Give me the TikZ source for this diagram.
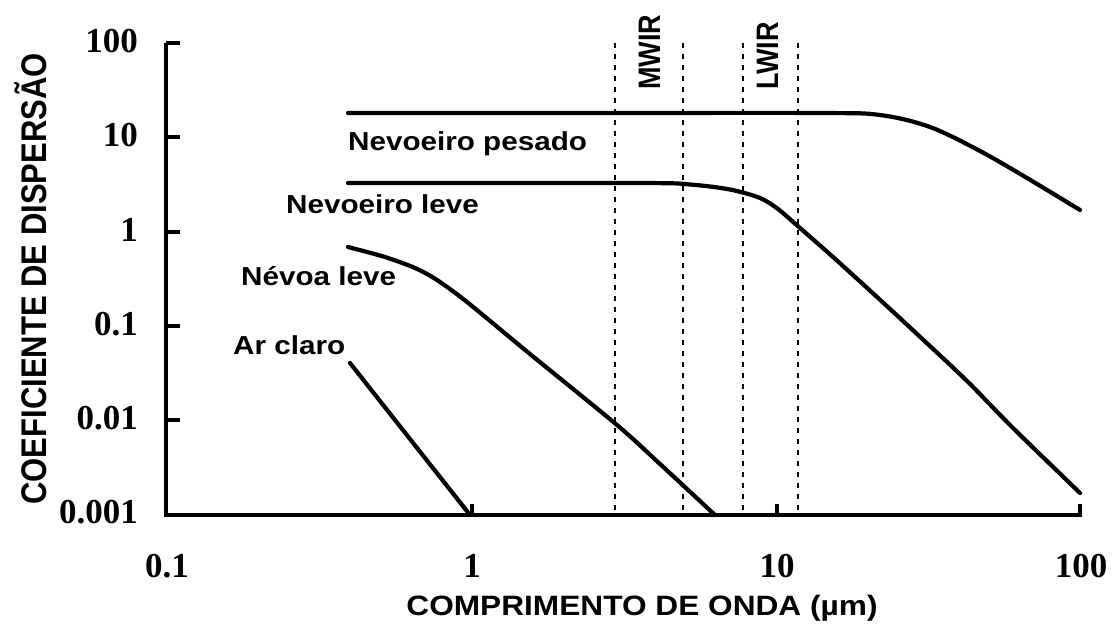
\documentclass[tikz,border=0pt]{standalone}
\usepackage{graphicx}
\usepackage{fontspec}
\setmainfont{Liberation Serif}
\newfontfamily\lsans{Liberation Sans}
\newcommand\hstr[1]{\scalebox{1.14}[1]{#1}}
\newcommand\vstr[1]{\scalebox{1}[1.15]{#1}}
\begin{document}
\begin{tikzpicture}[x=1pt,y=-1pt,
  curve/.style={line width=4.2pt, line join=round, line cap=round},
  axisline/.style={line width=4.2pt, line join=miter},
  tickmark/.style={line width=4pt},
  band/.style={line width=2.8pt, dash pattern=on 5pt off 6pt},
  ticklab/.style={font=\fontsize{35}{35}\selectfont\bfseries, inner sep=0pt},
  lab/.style={font=\lsans\fontsize{26}{26}\selectfont\bfseries, inner sep=0pt, anchor=base west},
  bandlab/.style={font=\lsans\fontsize{27}{27}\selectfont\bfseries, inner sep=0pt, rotate=90, anchor=base west},
  title/.style={font=\lsans\fontsize{28}{28}\selectfont\bfseries, inner sep=0pt},
]
\useasboundingbox (0,0) rectangle (1117,625);

% axes
\coordinate (top) at (166,43);
\coordinate (orig) at (166,515);
\coordinate (xend) at (1082,515);
\draw[axisline] (top) -- (orig) -- (xend);

% y ticks
\foreach \yy in {43,137,232,326,420} \draw[tickmark] (166,\yy) -- (180,\yy);
% x ticks
\foreach \xx in {472,777,1080} \draw[tickmark] (\xx,515) -- (\xx,504);

% y tick labels
\node[ticklab, anchor=base east] (y100) at (138,52) {100};
\node[ticklab, anchor=base east] (y10) at (138,146) {10};
\node[ticklab, anchor=base east] (y1) at (138,241) {1};
\node[ticklab, anchor=base east] (y01) at (138,335) {0.1};
\node[ticklab, anchor=base east] (y001) at (138,429) {0.01};
\node[ticklab, anchor=base east] (y0001) at (138,523) {0.001};

% x tick labels
\node[ticklab, anchor=base] (x01) at (167,577) {0.1};
\node[ticklab, anchor=base] (x1) at (472,577) {1};
\node[ticklab, anchor=base] (x10) at (777,577) {10};
\node[ticklab, anchor=base] (x100) at (1081,577) {100};

% axis titles
\node[title, anchor=base] (xtitle) at (642,615) {\scalebox{1.13}[1]{COMPRIMENTO DE ONDA (µm)}};
\node[title, font=\lsans\fontsize{31}{31}\selectfont\bfseries, rotate=90, anchor=base] (ytitle) at (46,279) {\vstr{COEFICIENTE DE DISPERSÃO}};

% MWIR / LWIR bands
\foreach \xx in {615,683,743,798} \draw[band] (\xx,43) -- (\xx,515);
\node[bandlab] (mwir) at (660,90) {\vstr{MWIR}};
\node[bandlab] (lwir) at (778,90) {\vstr{LWIR}};

% curves
\draw[curve] plot[smooth, tension=0.55] coordinates {(348,113) (600,113) (820,113) (880,115) (930,127) (980,151) (1027,178) (1080,210)};
\draw[curve] plot[smooth, tension=0.5] coordinates {(348,183) (640,183) (690,184.5) (730,189.5) (760,198) (778,209) (800,228) (833,257) (877,297) (917,334) (967,381) (1013,428) (1080,493)};
\draw[curve] plot[smooth, tension=0.5] coordinates {(348,247) (385,257) (415,268) (437,280) (467,302) (530,354) (617,425) (660,464) (715,515)};
\draw[curve] (350,363) -- (470,515);

% curve labels
\node[lab] (lp) at (348,150) {\hstr{Nevoeiro pesado}};
\node[lab] (ll) at (286,213) {\hstr{Nevoeiro leve}};
\node[lab] (nl) at (241,285) {\hstr{Névoa leve}};
\node[lab] (ac) at (233,354) {\hstr{Ar claro}};
\end{tikzpicture}
\end{document}
